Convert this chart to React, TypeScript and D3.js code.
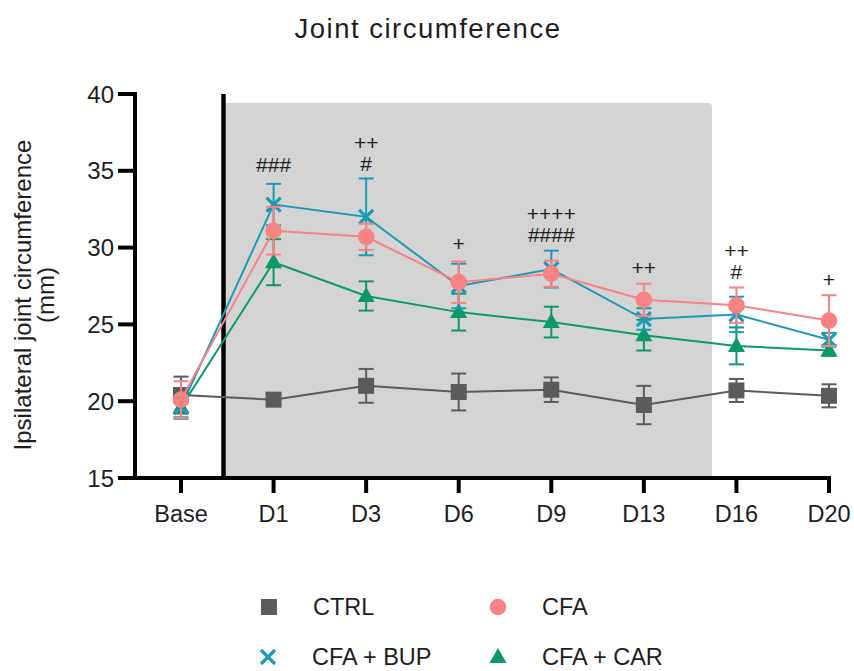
import React from "react";
import * as d3 from "d3";

const categories = ["Base", "D1", "D3", "D6", "D9", "D13", "D16", "D20"];
const yTicks = [15, 20, 25, 30, 35, 40];

const ctrlMean = [20.4, 20.1, 21.0, 20.6, 20.75, 19.75, 20.7, 20.35];
const ctrlErr = [1.2, 0.3, 1.1, 1.2, 0.8, 1.25, 0.75, 0.75];
const cfaMean = [20.1, 31.1, 30.7, 27.75, 28.3, 26.6, 26.25, 25.25];
const cfaErr = [1.2, 1.55, 0.85, 1.35, 0.85, 1.05, 1.15, 1.65];
const bupMean = [19.6, 32.8, 32.0, 27.5, 28.6, 25.35, 25.65, 24.0];
const bupErr = [0.75, 1.35, 2.5, 1.45, 1.2, 0.7, 1.15, 0.45];
const carMean = [19.6, 29.05, 26.85, 25.8, 25.15, 24.3, 23.6, 23.3];
const carErr = [0.65, 1.5, 0.95, 1.2, 1.0, 1.0, 1.2, 0.35];

const annotations = [
  { cat: "D1", lines: ["###"] },
  { cat: "D3", lines: ["++", "#"] },
  { cat: "D6", lines: ["+"] },
  { cat: "D9", lines: ["++++", "####"] },
  { cat: "D13", lines: ["++"] },
  { cat: "D16", lines: ["++", "#"] },
  { cat: "D20", lines: ["+"] },
];
// value level of the baseline of the lowest annotation line, per category
const annotationBase = [0, 34.92, 34.98, 29.78, 30.36, 28.22, 27.96, 27.43];

const FONT = "'Liberation Sans', Arial, sans-serif";
const C_CTRL = "#5b5b5b";
const C_CFA = "#f88383";
const C_BUP = "#1b9ab7";
const C_CAR = "#0b9a66";
const TXT = "#1e1e1e";

type Shape = "square" | "circle" | "x" | "triangle";

function Marker({ shape, x, y, color }: { shape: Shape; x: number; y: number; color: string }) {
  if (shape === "square") return <rect x={x - 8} y={y - 8} width={16} height={16} fill={color} />;
  if (shape === "circle") return <circle cx={x} cy={y} r={8.3} fill={color} />;
  if (shape === "triangle")
    return <path d={`M${x},${y - 9} L${x + 8.5},${y + 6} L${x - 8.5},${y + 6} Z`} fill={color} />;
  return (
    <path
      d={`M${x - 7},${y - 7} L${x + 7},${y + 7} M${x + 7},${y - 7} L${x - 7},${y + 7}`}
      stroke={color}
      strokeWidth={3.2}
      fill="none"
    />
  );
}

export default function App() {
  const x = d3.scalePoint<string>().domain(categories).range([181, 829]);
  const y = d3.scaleLinear().domain([15, 40]).range([478, 94]);
  const axisX = 135;
  const axisY = 478;

  const series = [
    { name: "CTRL", mean: ctrlMean, err: ctrlErr, color: C_CTRL, shape: "square" as Shape },
    { name: "CFA + CAR", mean: carMean, err: carErr, color: C_CAR, shape: "triangle" as Shape },
    { name: "CFA + BUP", mean: bupMean, err: bupErr, color: C_BUP, shape: "x" as Shape },
    { name: "CFA", mean: cfaMean, err: cfaErr, color: C_CFA, shape: "circle" as Shape },
  ];

  const line = d3
    .line<number>()
    .x((_, i) => x(categories[i])!)
    .y((d) => y(d));

  const legend = [
    { name: "CTRL", color: C_CTRL, shape: "square" as Shape, lx: 269, ly: 607 },
    { name: "CFA", color: C_CFA, shape: "circle" as Shape, lx: 498, ly: 607 },
    { name: "CFA + BUP", color: C_BUP, shape: "x" as Shape, lx: 268, ly: 657 },
    { name: "CFA + CAR", color: C_CAR, shape: "triangle" as Shape, lx: 498, ly: 657 },
  ];

  return (
    <svg width={854} height={671} style={{ position: "absolute", left: 0, top: 0 }} fontFamily={FONT}>
      <rect width={854} height={671} fill="#fff" />
      <text x={428} y={38} textAnchor="middle" fontSize={27.5} letterSpacing={1.5} fill={TXT}>
        Joint circumference
      </text>
      {/* shaded region */}
      <path
        d={`M224,${axisY} L224,103 L708,103 Q712,103 712,107 L712,${axisY} Z`}
        fill="#d4d4d4"
      />
      <line x1={223.5} x2={223.5} y1={94} y2={axisY} stroke="#000" strokeWidth={4.5} />

      {/* y axis */}
      <line x1={axisX} x2={axisX} y1={92} y2={axisY + 2} stroke="#000" strokeWidth={4} />
      {yTicks.map((t) => (
        <g key={t}>
          <line x1={118} x2={axisX} y1={y(t)} y2={y(t)} stroke="#000" strokeWidth={4} />
          <text x={114} y={y(t)} dy="0.36em" textAnchor="end" fontSize={24} fill={TXT}>
            {t}
          </text>
        </g>
      ))}
      {/* x axis */}
      <line x1={axisX - 2} x2={831} y1={axisY} y2={axisY} stroke="#000" strokeWidth={4} />
      {categories.map((c) => (
        <g key={c}>
          <line x1={x(c)} x2={x(c)} y1={axisY} y2={493} stroke="#000" strokeWidth={4} />
          <text x={x(c)} y={522} textAnchor="middle" fontSize={23.5} fill={TXT}>
            {c}
          </text>
        </g>
      ))}

      <text transform="translate(31,295) rotate(-90)" textAnchor="middle" fontSize={24} fill={TXT}>
        Ipsilateral joint circumference
      </text>
      <text transform="translate(54,295) rotate(-90)" textAnchor="middle" fontSize={24} fill={TXT}>
        (mm)
      </text>

      {series.map((s) => (
        <g key={s.name}>
          <path d={line(s.mean) || ""} fill="none" stroke={s.color} strokeWidth={2} />
          {s.mean.map((m, i) => {
            const cx = x(categories[i])!;
            const top = y(m + s.err[i]);
            const bot = y(m - s.err[i]);
            return (
              <g key={i} stroke={s.color} strokeWidth={2}>
                <line x1={cx} x2={cx} y1={top} y2={bot} />
                <line x1={cx - 7.5} x2={cx + 7.5} y1={top} y2={top} />
                <line x1={cx - 7.5} x2={cx + 7.5} y1={bot} y2={bot} />
              </g>
            );
          })}
          {s.mean.map((m, i) => (
            <Marker key={"m" + i} shape={s.shape} x={x(categories[i])!} y={y(m)} color={s.color} />
          ))}
        </g>
      ))}

      {annotations.map((a) => {
        const idx = categories.indexOf(a.cat);
        const baseY = y(annotationBase[idx]);
        return a.lines.map((txt, j) => (
          <text
            key={a.cat + j}
            x={x(a.cat)}
            y={baseY - (a.lines.length - 1 - j) * 21}
            textAnchor="middle"
            fontSize={21}
            fill={TXT}
          >
            {txt}
          </text>
        ));
      })}

      {legend.map((l) => (
        <g key={l.name}>
          <Marker shape={l.shape} x={l.lx} y={l.ly} color={l.color} />
          <text x={l.lx + 44} y={l.ly} dy="0.36em" fontSize={23.5} fill={TXT}>
            {l.name}
          </text>
        </g>
      ))}
    </svg>
  );
}
